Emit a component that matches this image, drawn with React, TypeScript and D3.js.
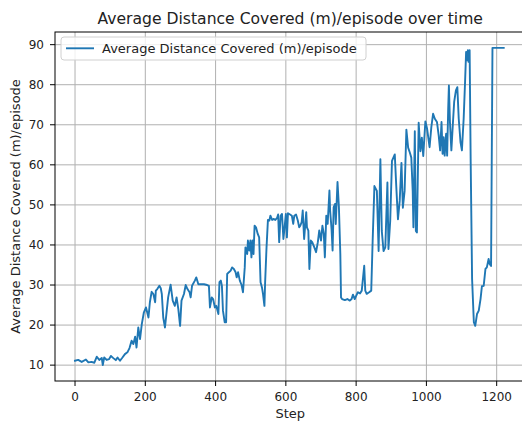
import React from 'react';
import * as d3 from 'd3';

const steps = [
  0, 9, 19, 31, 38, 47, 55, 62, 69, 76, 79, 83, 90, 97, 102, 109, 116, 121, 128, 135,
  142, 149, 155, 161, 166, 171, 175, 180, 185, 190, 196, 202, 209, 213, 218, 223, 228, 230, 234, 240,
  244, 247, 251, 256, 261, 265, 272, 278, 284, 289, 294, 299, 303, 310, 315, 320, 326, 329, 333, 341,
  345, 351, 357, 367, 376, 381, 384, 389, 393, 398, 402, 408, 411, 415, 418, 421, 426, 430, 433, 438,
  443, 447, 452, 457, 460, 464, 469, 474, 478, 483, 485, 490, 492, 496, 499, 502, 505, 508, 511, 515,
  520, 524, 528, 532, 535, 539, 541, 545, 549, 553, 556, 561, 566, 570, 575, 578, 581, 585, 589, 593,
  596, 600, 603, 606, 612, 617, 621, 624, 629, 634, 638, 641, 645, 648, 652, 655, 658, 660, 664, 667,
  671, 675, 681, 686, 691, 695, 700, 704, 708, 711, 715, 719, 724, 726, 730, 733, 736, 740, 742, 747,
  751, 755, 757, 760, 768, 775, 782, 787, 791, 796, 800, 805, 811, 816, 823, 826, 830, 837, 843, 847,
  852, 859, 864, 869, 873, 878, 883, 889, 892, 897, 902, 910, 914, 919, 924, 929, 933, 938, 943, 948,
  953, 957, 961, 963, 967, 970, 973, 978, 983, 987, 991, 997, 1002, 1009, 1014, 1019, 1024, 1030, 1035, 1039,
  1043, 1046, 1049, 1052, 1056, 1059, 1062, 1064, 1067, 1071, 1075, 1079, 1084, 1088, 1092, 1097, 1101, 1106, 1110, 1113,
  1116, 1118, 1120, 1123, 1126, 1130, 1135, 1139, 1144, 1149, 1154, 1158, 1163, 1168, 1172, 1177, 1180, 1184, 1188, 1195,
  1205, 1212, 1220,
];

const distances = [
  11.1, 11.3, 10.8, 11.4, 10.7, 10.8, 10.6, 12.1, 11.3, 11.8, 10.0, 11.9, 11.3, 11.5, 12.3, 11.75, 11.25, 11.9, 11.1, 11.9,
  12.75, 13.2, 14.25, 16.1, 15.25, 17.1, 14.4, 19.4, 16.5, 20.25, 23.2, 24.4, 21.9, 25.7, 28.3, 27.75, 25.7, 28.6, 29, 29.8,
  29.2, 27.75, 21.9, 19.4, 23.6, 26.9, 30.1, 26.1, 24.8, 26.9, 24, 19.8, 26.1, 27.75, 30, 29, 28.2, 26.9, 29.8, 31.1,
  31.9, 30.2, 30.2, 30.2, 30, 29.8, 24.4, 26.9, 26.5, 24.4, 24.8, 22.75, 30.7, 31.1, 29.8, 23.6, 20.7, 20.7, 32.75, 33.2,
  33.6, 34.4, 34, 33.2, 31.9, 33.2, 31.1, 30, 28.2, 34.4, 39.4, 37.75, 41.1, 38.6, 41.1, 36.9, 41.1, 37.75, 44.8, 44.4,
  42.75, 41.9, 30.7, 29.4, 27.75, 24.8, 30.7, 39.4, 46.25, 46.1, 47.3, 46.25, 46.5, 46.25, 46.75, 47.6, 40.7, 47.3, 47.75, 41.5,
  44, 47.75, 41.9, 47.9, 47.6, 47.3, 45.25, 47.3, 47.6, 46.1, 44.4, 44.8, 45.7, 48.6, 41.5, 44.8, 48.2, 44.4, 43.6, 34,
  41.1, 40.7, 39.4, 38.2, 40.7, 43.6, 41.1, 44.8, 42.75, 36.9, 47.3, 45.25, 53.6, 48.6, 44, 38.6, 49.4, 50.25, 45.25, 55.7,
  49.4, 37.75, 26.9, 26.5, 26.25, 26.5, 26.1, 26.5, 27.6, 26.5, 27.3, 28.2, 27.9, 28.6, 34.8, 28.6, 27.8, 28.2, 28.6, 41,
  54.7, 53.5, 38.5, 61.4, 43.5, 38.5, 39.4, 55.6, 39, 46, 61, 62.6, 55, 46.4, 51, 60.5, 49.3, 53.5, 68.8, 64.3,
  63, 61.8, 53.5, 44.4, 68.4, 43.5, 43.1, 70.5, 63.4, 66.8, 62.2, 70.8, 69, 64.4, 69.4, 72.75, 71.5, 70.7, 67.3, 63.6,
  70.7, 62.75, 66.9, 62.3, 67.75, 62.3, 74, 79.8, 70.7, 63.6, 69.8, 75.7, 78.6, 79.4, 71.5, 65.7, 63.6, 71.5, 80.7, 88.2,
  86.1, 88.6, 85.7, 88.6, 60.7, 31.5, 20.7, 19.8, 22.75, 23.6, 26.5, 29.7, 29.8, 34, 34.4, 36.5, 35.25, 34.75, 89.2, 89.2,
  89.2, 89.2, 89.2,
];

const xTicks = [0, 200, 400, 600, 800, 1000, 1200];
const yTicks = [10, 20, 30, 40, 50, 60, 70, 80, 90];

const title = 'Average Distance Covered (m)/episode over time';
const seriesName = 'Average Distance Covered (m)/episode';

const W = 522;
const H = 421;
const plot = { left: 55, right: 525.5, top: 32, bottom: 381 };
const font = 'DejaVu Sans, sans-serif';
const blue = '#1f77b4';
const gridColor = '#b0b0b0';
const tickSize = 12;
const labelSize = 13;

export default function App() {
  const x = d3.scaleLinear().domain([-57, 1282]).range([plot.left, plot.right]);
  const [yMin, yMax] = d3.extent(distances) as [number, number];
  const pad = (yMax - yMin) * 0.05;
  const y = d3.scaleLinear().domain([yMin - pad, yMax + pad]).range([plot.bottom, plot.top]);

  const points = steps.map((s, i) => [s, distances[i]] as [number, number]);
  const line = d3.line<[number, number]>()
    .x(d => x(d[0]))
    .y(d => y(d[1]));

  const cx = (plot.left + plot.right) / 2;

  return (
    <svg width={W} height={H} style={{ position: 'fixed', left: 0, top: 0, background: '#fff' }}
      fontFamily={font}>
      <rect x={0} y={0} width={W} height={H} fill="#fff" />

      {/* grid */}
      {xTicks.map(t => (
        <line key={'gx' + t} x1={x(t)} x2={x(t)} y1={plot.top} y2={plot.bottom}
          stroke={gridColor} strokeWidth={1} />
      ))}
      {yTicks.map(t => (
        <line key={'gy' + t} x1={plot.left} x2={plot.right} y1={y(t)} y2={y(t)}
          stroke={gridColor} strokeWidth={1} />
      ))}

      <path d={line(points) || ''} fill="none" stroke={blue} strokeWidth={1.9}
        strokeLinejoin="round" strokeLinecap="square" />

      {/* spines */}
      <rect x={plot.left} y={plot.top} width={plot.right - plot.left} height={plot.bottom - plot.top}
        fill="none" stroke="#000" strokeWidth={1} />

      {/* x axis */}
      {xTicks.map(t => (
        <g key={'xt' + t}>
          <line x1={x(t)} x2={x(t)} y1={plot.bottom} y2={plot.bottom + 5} stroke="#000" strokeWidth={1} />
          <text x={x(t)} y={plot.bottom + 19.5} textAnchor="middle" fontSize={tickSize} fill="#222">{t}</text>
        </g>
      ))}
      <text x={cx} y={418} textAnchor="middle" fontSize={labelSize} fill="#222">Step</text>

      {/* y axis */}
      {yTicks.map(t => (
        <g key={'yt' + t}>
          <line x1={plot.left - 5} x2={plot.left} y1={y(t)} y2={y(t)} stroke="#000" strokeWidth={1} />
          <text x={plot.left - 11} y={y(t) + 4.3} textAnchor="end" fontSize={tickSize} fill="#222">{t}</text>
        </g>
      ))}
      <text transform={`translate(20,${(plot.top + plot.bottom) / 2}) rotate(-90)`} textAnchor="middle"
        fontSize={labelSize} fill="#222">{seriesName}</text>

      {/* title */}
      <text x={cx} y={23.5} textAnchor="middle" fontSize={15.6} fill="#222">{title}</text>

      {/* legend */}
      <rect x={61} y={37} width={305} height={23} rx={3} fill="#fff" fillOpacity={0.8}
        stroke="#d0d0d0" strokeWidth={1} />
      <line x1={66} x2={94} y1={48.3} y2={48.3} stroke={blue} strokeWidth={1.9} />
      <text x={102} y={53} fontSize={labelSize} fill="#222">{seriesName}</text>
    </svg>
  );
}
